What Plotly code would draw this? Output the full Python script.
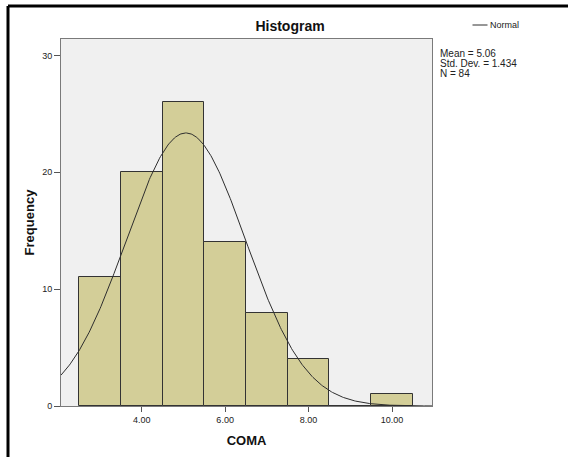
import numpy as np
import plotly.graph_objects as go

# Histogram of COMA scores (bin width 1.0)
bin_centers = [3, 4, 5, 6, 7, 8, 9, 10]
frequencies = [11, 20, 26, 14, 8, 4, 0, 1]
x_tick_vals = [4, 6, 8, 10]
x_tick_text = ["4.00", "6.00", "8.00", "10.00"]
y_tick_vals = [0, 10, 20, 30]

mean = 5.06
std_dev = 1.434
n_obs = 84
bin_width = 1.0

W, H = 568, 457
ML, MR, MT, MB = 61, 136, 39, 51
PW, PH = W - ML - MR, H - MT - MB

x_range = [2.065, 10.959]
y_range = [0, 31.41]


def px_x(px):
    return (px - ML) / PW


def px_y(py):
    return (H - MB - py) / PH


FONT = "Liberation Sans, Arial, sans-serif"

# Fitted normal curve scaled to counts
xs = np.linspace(x_range[0], x_range[1], 400)
ys = n_obs * bin_width * np.exp(-0.5 * ((xs - mean) / std_dev) ** 2) / (std_dev * np.sqrt(2 * np.pi))

fig = go.Figure()
fig.add_trace(go.Bar(
    x=bin_centers, y=frequencies, width=bin_width,
    marker=dict(color="#D3CE98", line=dict(color="#333333", width=1)),
    showlegend=False, hoverinfo="x+y",
))
fig.add_trace(go.Scatter(
    x=xs, y=ys, mode="lines", name="Normal",
    line=dict(color="#2e2e2e", width=1), showlegend=False,
))

fig.update_layout(
    width=W, height=H,
    margin=dict(l=ML, r=MR, t=MT, b=MB, pad=0),
    paper_bgcolor="white",
    plot_bgcolor="#F0F0F0",
    bargap=0,
    font=dict(family=FONT, color="#222"),
    title=dict(
        text="<b>Histogram</b>", x=290 / W, xanchor="center",
        y=1 - 26 / H, yanchor="middle", font=dict(size=14, color="#111"),
    ),
    xaxis=dict(
        range=x_range, tickvals=x_tick_vals, ticktext=x_tick_text,
        ticks="outside", ticklen=5, tickcolor="#555", tickfont=dict(size=9, color="#222"),
        showgrid=False, zeroline=False, showline=True, linecolor="#7a7a7a",
        linewidth=1, mirror=True,
        title=dict(text="<b>COMA</b>", font=dict(size=13, color="#111"), standoff=12),
    ),
    yaxis=dict(
        range=y_range, tickvals=y_tick_vals,
        ticks="outside", ticklen=6, tickcolor="#555", tickfont=dict(size=9, color="#222"),
        showgrid=False, zeroline=False, showline=True, linecolor="#7a7a7a",
        linewidth=1, mirror=True,
        title=dict(text="<b>Frequency</b>", font=dict(size=13, color="#111"), standoff=4),
    ),
)

# Legend sample for the normal curve
fig.add_shape(type="line", xref="paper", yref="paper",
              x0=px_x(472.5), x1=px_x(487.5), y0=px_y(25), y1=px_y(25),
              line=dict(color="#2e2e2e", width=1))
fig.add_annotation(text="Normal", xref="paper", yref="paper",
                   x=px_x(488), y=px_y(25), xanchor="left", yanchor="middle",
                   showarrow=False, font=dict(size=9, color="#222"))

# Summary statistics
stats_lines = [f"Mean = {mean:.2f}", f"Std. Dev. = {std_dev:.3f}", f"N = {n_obs}"]
for i, line in enumerate(stats_lines):
    fig.add_annotation(text=line, xref="paper", yref="paper",
                       x=px_x(437.5), y=px_y(53.5 + 10 * i), xanchor="left", yanchor="middle",
                       showarrow=False, font=dict(size=10, color="#222"))

# Outer frame (top and left edges)
fig.add_shape(type="line", xref="paper", yref="paper",
              x0=px_x(8), x1=px_x(W + 2), y0=px_y(6), y1=px_y(6),
              line=dict(color="black", width=3))
fig.add_shape(type="line", xref="paper", yref="paper",
              x0=px_x(8), x1=px_x(8), y0=px_y(6), y1=px_y(H + 2),
              line=dict(color="black", width=3))

fig.write_html("out.html")
